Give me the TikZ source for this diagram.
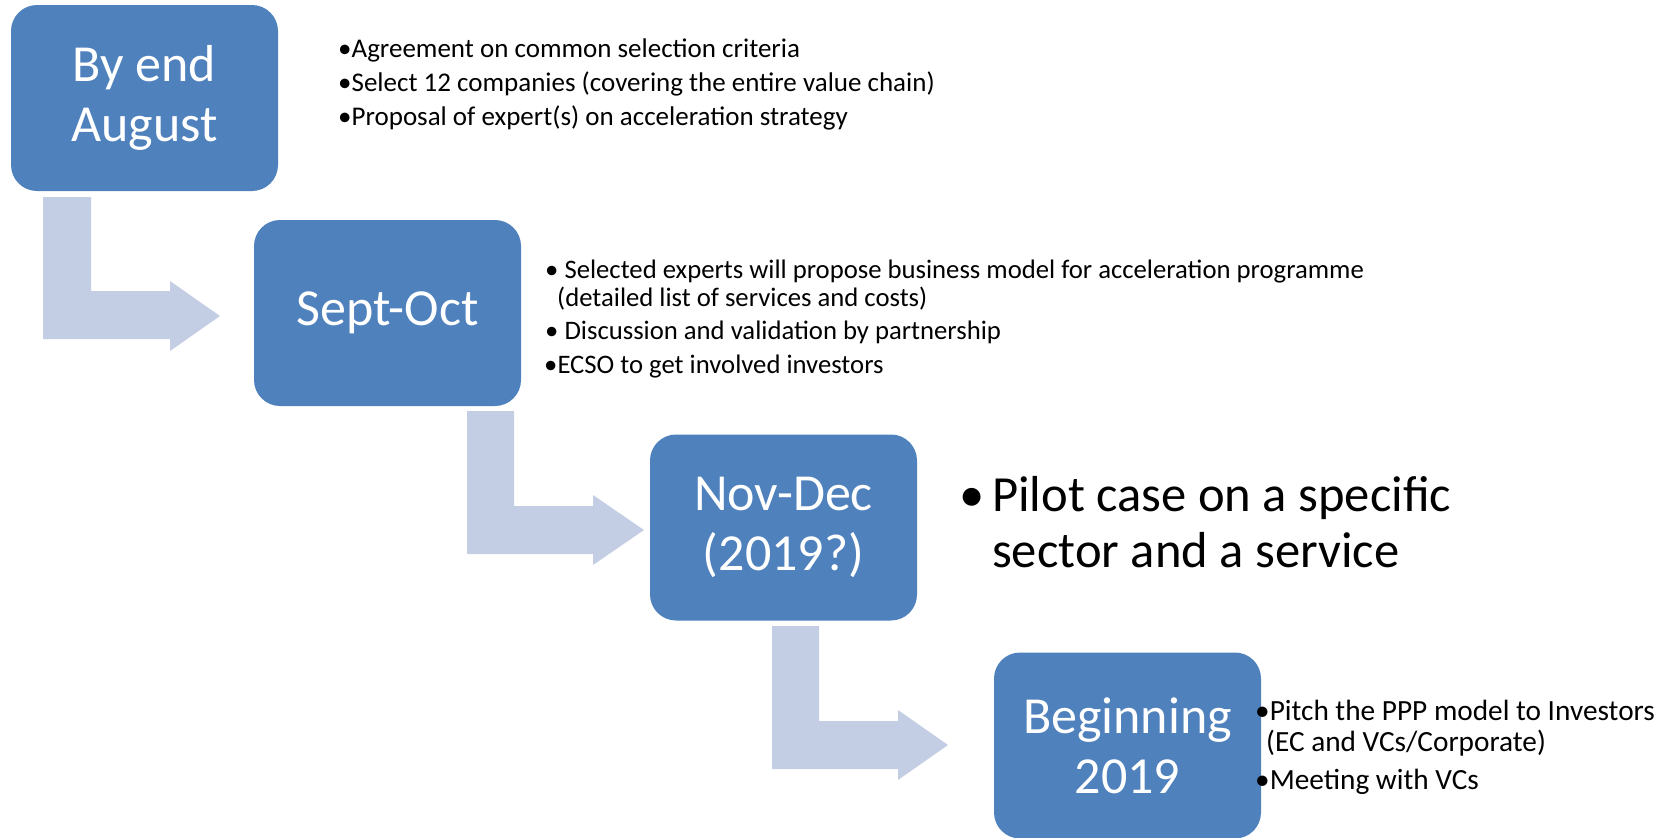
\documentclass[tikz,border=0pt]{standalone}
\usepackage{fontspec}
\setmainfont{Carlito}
\usetikzlibrary{positioning}
\definecolor{boxblue}{RGB}{79,129,189}
\definecolor{bendblue}{RGB}{195,205,227}

\begin{document}
\begin{tikzpicture}[x=1pt,y=-1pt,
	main node/.style={rectangle,rounded corners=26pt,fill=boxblue,text=white,
		minimum width=267pt,minimum height=186pt,align=center,
		font=\fontsize{52}{60}\selectfont},
	item/.style={anchor=base west,inner sep=0pt},
	bent arrow/.style={fill=bendblue}]
	
	\useasboundingbox (0,0) rectangle (1679,838);
	
	\fill[bent arrow] (43,197) -- (91,197) -- (91,291) -- (170,291) -- (170,281)
	-- (220,316) -- (170,351) -- (170,339) -- (43,339) -- cycle;
	\fill[bent arrow] (467,411) -- (514,411) -- (514,506) -- (593,506) -- (593,495)
	-- (644,530) -- (593,565) -- (593,554) -- (467,554) -- cycle;
	\fill[bent arrow] (772,626) -- (819,626) -- (819,721) -- (898,721) -- (898,710)
	-- (948,745) -- (898,780) -- (898,769) -- (772,769) -- cycle;
	
	\node[main node] (1) at (144.5,98) {By end\\August};
	\node[main node] (2) at (387.5,313) {Sept-Oct};
	\node[main node] (3) at (783.5,527.5) {Nov-Dec\\(2019?)};
	\node[main node] (4) at (1127.5,745.5) {Beginning\\2019};
	
	\begin{scope}[every node/.style={font=\fontsize{27}{34}\selectfont}]
	\node[item] (1a) at (338,57) {\textbullet Agreement on common selection criteria};
	\node[item] (1b) at (338,91.5) {\textbullet Select 12 companies (covering the entire value chain)};
	\node[item] (1c) at (338,125) {\textbullet Proposal of expert(s) on acceleration strategy};
	\end{scope}
	
	\begin{scope}[every node/.style={font=\fontsize{26.7}{32}\selectfont}]
	\node[item] (2a) at (545,278) {\textbullet\ Selected experts will propose business model for acceleration programme};
	\node[item] (2b) at (557,306) {(detailed list of services and costs)};
	\node[item] (2c) at (545,339) {\textbullet\ Discussion and validation by partnership};
	\node[item] (2d) at (544,373) {\textbullet ECSO to get involved investors};
	\end{scope}
	
	\begin{scope}[every node/.style={font=\fontsize{50.6}{55}\selectfont}]
	\node[item] (3a) at (959,511) {\makebox[33pt][l]{\textbullet}Pilot case on a specific};
	\node[item] (3b) at (992,567) {sector and a service};
	\end{scope}
	
	\begin{scope}[every node/.style={font=\fontsize{29.3}{31}\selectfont}]
	\node[item] (4a) at (1255,720) {\textbullet Pitch the PPP model to Investors};
	\node[item] (4b) at (1266,751) {(EC and VCs/Corporate)};
	\node[item] (4c) at (1255,789) {\textbullet Meeting with VCs};
	\end{scope}
\end{tikzpicture}
\end{document}
